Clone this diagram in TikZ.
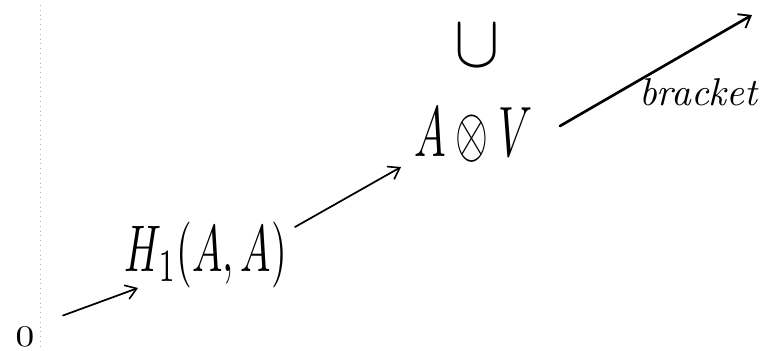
\documentclass[tikz,border=0pt]{standalone}
\usetikzlibrary{arrows.meta}
\begin{document}
\begin{tikzpicture}[x=0.75pt,y=-0.75pt,
  lbl/.style={inner sep=0pt, outer sep=0pt},
  arr/.style={line width=1.3pt, line cap=round, -{Straight Barb[length=8pt,width=11pt,line width=1.2pt]}},
  arrthick/.style={line width=2pt, line cap=round, -{Straight Barb[length=8pt,width=12pt,line width=1.4pt]}},
  margin/.style={gray!60, line width=0.5pt, dash pattern=on 0.6pt off 3pt}]
\useasboundingbox (0,0) rectangle (777,350);
\draw[margin] (40.5,5) -- (40.5,350);
\node[lbl] (zero) at (25,337) {\resizebox*{14pt}{14.5pt}{$0$}};
\node[lbl] (h1) at (206,255) {\resizebox*{121.5pt}{49.5pt}{$H_1(A,A)$}};
\node[lbl] (aov) at (473.5,135.5) {\resizebox*{88pt}{41pt}{$A\otimes V$}};
\node[lbl, inner sep=2pt] (cup) at (477.5,46) {\resizebox*{34pt}{31pt}{$\cup$}};
\node[lbl] (blab) at (699,92) {\resizebox{90pt}{!}{\textit{bracket}}};
\coordinate (br) at (752,15);
\draw[arr] ([shift={(38,-21.5)}]zero.center) -- ([shift={(-68,33)}]h1.center);
\draw[arr] ([shift={(89,-28)}]h1.center) -- ([shift={(-72.5,31.5)}]aov.center);
\draw[arrthick] ([shift={(86.5,-9.5)}]aov.center) -- (br);
\end{tikzpicture}
\end{document}
